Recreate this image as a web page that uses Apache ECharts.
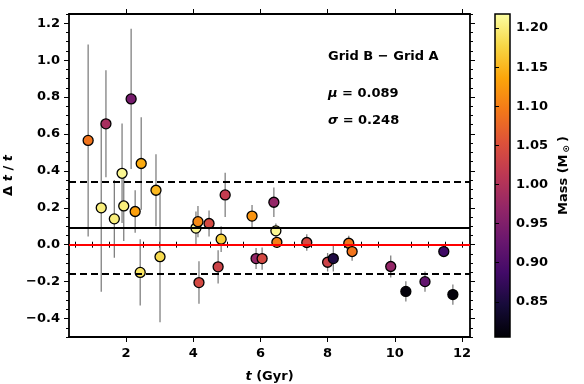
<!DOCTYPE html>
<html>
<head>
<meta charset="utf-8">
<script src="https://cdn.jsdelivr.net/npm/echarts@6/dist/echarts.min.js"></script>
<style>
  html, body { margin: 0; padding: 0; background: #fff; }
  #chart { width: 584px; height: 384px; }
</style>
</head>
<body>
<div id="chart"></div>
<script>
// star ages (Gyr), relative age difference, its error, and stellar mass
var ages   = [0.87, 1.26, 1.40, 1.65, 1.88, 1.93, 2.15, 2.27, 2.42, 2.45, 2.89, 3.01,
              4.08, 4.14, 4.17, 4.47, 4.74, 4.83, 4.95, 5.75, 5.87, 6.05, 6.40, 6.46,
              6.49, 7.38, 8.00, 8.17, 8.63, 8.73, 9.88, 10.33, 10.90, 11.46, 11.73];
var deltas = [0.565, 0.20, 0.655, 0.14, 0.387, 0.21, 0.79, 0.18, -0.15, 0.44, 0.295, -0.065,
              0.09, 0.125, -0.205, 0.115, -0.12, 0.03, 0.27, 0.155, -0.075, -0.075, 0.23, 0.075,
              0.013, 0.012, -0.095, -0.075, 0.008, -0.037, -0.118, -0.253, -0.20, -0.037, -0.27];
var errors = [0.52, 0.455, 0.29, 0.21, 0.27, 0.19, 0.38, 0.115, 0.18, 0.25, 0.195, 0.355,
              0.09, 0.085, 0.115, 0.07, 0.09, 0.07, 0.12, 0.06, 0.057, 0.06, 0.08, 0.04,
              0.03, 0.045, 0.05, 0.07, 0.04, 0.05, 0.06, 0.055, 0.055, 0.03, 0.055];
var masses = [1.09, 1.20, 0.99, 1.20, 1.21, 1.20, 0.94, 1.13, 1.19, 1.14, 1.15, 1.18,
              1.21, 1.11, 1.04, 1.04, 1.03, 1.17, 1.02, 1.12, 0.97, 1.04, 0.97, 1.21,
              1.10, 1.04, 1.03, 0.855, 1.09, 1.09, 0.97, 0.81, 0.92, 0.885, 0.81];

var MU = 0.089;
var SIGMA = 0.248;
var MASS_MIN = 0.805, MASS_MAX = 1.218;

var xMajorTicks = [2, 4, 6, 8, 10, 12];
var xMinorTicks = [0.5, 1, 1.5, 2.5, 3, 3.5, 4.5, 5, 5.5, 6.5, 7, 7.5, 8.5, 9, 9.5, 10.5, 11, 11.5, 12];
var yMajorTicks = [-0.4, -0.2, 0, 0.2, 0.4, 0.6, 0.8, 1.0, 1.2];
var yMinorTicks = [-0.5, -0.45, -0.35, -0.3, -0.25, -0.15, -0.1, -0.05, 0.05, 0.1, 0.15,
                   0.25, 0.3, 0.35, 0.45, 0.5, 0.55, 0.65, 0.7, 0.75, 0.85, 0.9, 0.95,
                   1.05, 1.1, 1.15, 1.25];
var cbTicks = [0.85, 0.90, 0.95, 1.00, 1.05, 1.10, 1.15, 1.20];

var inferno = ['#000004', '#160b39', '#420a68', '#6a176e', '#932667', '#bc3754',
               '#dd513a', '#f37819', '#fca50a', '#f6d746', '#fcffa4'];

var FONT = 'DejaVu Sans';
var pts = [], bars = [];
for (var i = 0; i < ages.length; i++) {
  pts.push([ages[i], deltas[i], masses[i]]);
  bars.push([ages[i], deltas[i], errors[i]]);
}

function fmtY(v) {
  return (v < 0 ? '\u2212' : '') + Math.abs(v).toFixed(1);
}

var labelStyle = { color: '#000', fontFamily: FONT, fontWeight: 'bold', fontSize: 13 };
var frame = { show: true, onZero: false, lineStyle: { color: '#000', width: 1.8 } };

function xAx(pos, major, withLabels) {
  return {
    type: 'value', gridIndex: 0, position: pos, min: 0.3, max: 12.24,
    axisLine: major ? frame : { show: false },
    axisTick: { show: true, customValues: major ? xMajorTicks : xMinorTicks,
                length: major ? 5 : 3, lineStyle: { color: '#000', width: 1 } },
    axisLabel: withLabels ? Object.assign({ customValues: xMajorTicks, margin: 10 }, labelStyle)
                          : { show: false },
    splitLine: { show: false }
  };
}
function yAx(pos, major, withLabels) {
  return {
    type: 'value', gridIndex: 0, position: pos, min: -0.5, max: 1.25,
    axisLine: major ? frame : { show: false },
    axisTick: { show: true, customValues: major ? yMajorTicks : yMinorTicks,
                length: major ? 5 : 3, lineStyle: { color: '#000', width: 1 } },
    axisLabel: withLabels ? Object.assign({ customValues: yMajorTicks, margin: 9, formatter: fmtY }, labelStyle)
                          : { show: false },
    splitLine: { show: false }
  };
}

var xMain = xAx('bottom', true, true);
xMain.name = '{i|t} (Gyr)';
xMain.nameLocation = 'middle';
xMain.nameGap = 33;
xMain.nameTextStyle = Object.assign({ rich: { i: { fontStyle: 'italic', fontWeight: 'bold', fontSize: 13, fontFamily: FONT } } }, labelStyle);

var yMain = yAx('left', true, true);
yMain.name = '\u0394 {i|t} / {i|t}';
yMain.nameLocation = 'middle';
yMain.nameGap = 42;
yMain.nameRotate = 90;
yMain.nameTextStyle = Object.assign({ rich: { i: { fontStyle: 'italic', fontWeight: 'bold', fontSize: 13, fontFamily: FONT } } }, labelStyle);

var option = {
  animation: false,
  backgroundColor: '#fff',
  grid: [
    { left: 69, top: 14, width: 401, height: 323, containLabel: false, outerBoundsMode: 'none' },
    { left: 495, top: 14, width: 15, height: 323, show: true, outerBoundsMode: 'none',
      borderColor: '#000', borderWidth: 1.5,
      backgroundColor: { type: 'linear', x: 0, y: 1, x2: 0, y2: 0,
        colorStops: inferno.map(function (c, k) { return { offset: k / (inferno.length - 1), color: c }; }) } }
  ],
  xAxis: [
    xMain, xAx('bottom', false, false), xAx('top', true, false), xAx('top', false, false),
    { type: 'value', gridIndex: 1, show: false, min: 0, max: 1 }
  ],
  yAxis: [
    yMain, yAx('left', false, false), yAx('right', true, false), yAx('right', false, false),
    {
      type: 'value', gridIndex: 1, position: 'right', min: MASS_MIN, max: MASS_MAX,
      axisLine: { show: false },
      axisTick: { show: true, customValues: cbTicks, length: 4, lineStyle: { color: '#000', width: 1 } },
      axisLabel: Object.assign({ customValues: cbTicks, margin: 6, formatter: function (v) { return v.toFixed(2); } }, labelStyle),
      splitLine: { show: false },
      name: 'Mass (M{s|\u2299})',
      nameLocation: 'middle', nameRotate: 90, nameGap: 46,
      nameTextStyle: Object.assign({ rich: { s: { fontSize: 9, fontWeight: 'bold', fontFamily: FONT, padding: [6, 3, 0, 2] } } }, labelStyle)
    }
  ],
  visualMap: {
    show: false, type: 'continuous', seriesIndex: 2, dimension: 2,
    min: MASS_MIN, max: MASS_MAX, inRange: { color: inferno }
  },
  graphic: [
    { type: 'text', left: 328, top: 50,
      style: { text: 'Grid B \u2212 Grid A', fill: '#000', font: 'bold 13px "DejaVu Sans"' } },
    { type: 'text', left: 328, top: 87,
      style: { text: '{i|\u03bc} = ' + MU.toFixed(3), fill: '#000', font: 'bold 13px "DejaVu Sans"',
               rich: { i: { fontStyle: 'italic', fontWeight: 'bold', fontSize: 13, fontFamily: FONT } } } },
    { type: 'text', left: 328, top: 114,
      style: { text: '{i|\u03c3} = ' + SIGMA.toFixed(3), fill: '#000', font: 'bold 13px "DejaVu Sans"',
               rich: { i: { fontStyle: 'italic', fontWeight: 'bold', fontSize: 13, fontFamily: FONT } } } }
  ],
  series: [
    {
      type: 'line', xAxisIndex: 0, yAxisIndex: 0, data: [], z: 1,
      markLine: {
        silent: true, symbol: ['none', 'none'], label: { show: false }, animation: false,
        data: [
          { yAxis: 0, lineStyle: { color: '#ff0000', width: 2, type: 'solid' } },
          { yAxis: MU, lineStyle: { color: '#000', width: 2, type: 'solid' } },
          { yAxis: MU + SIGMA, lineStyle: { color: '#000', width: 2, type: [7, 4] } },
          { yAxis: MU - SIGMA, lineStyle: { color: '#000', width: 2, type: [7, 4] } }
        ]
      }
    },
    {
      type: 'custom', xAxisIndex: 0, yAxisIndex: 0, z: 2, data: bars,
      renderItem: function (params, api) {
        var x = api.value(0), y = api.value(1), e = api.value(2);
        var p1 = api.coord([x, y - e]), p2 = api.coord([x, y + e]);
        return { type: 'line', shape: { x1: p1[0], y1: p1[1], x2: p2[0], y2: p2[1] },
                 style: { stroke: '#808080', lineWidth: 1.3 } };
      }
    },
    {
      type: 'scatter', xAxisIndex: 0, yAxisIndex: 0, z: 3, data: pts,
      symbolSize: 10,
      itemStyle: { borderColor: '#000', borderWidth: 1.3, opacity: 1 }
    }
  ]
};

var chart = echarts.init(document.getElementById('chart'), null, { renderer: 'canvas' });
chart.setOption(option);
</script>
</body>
</html>
